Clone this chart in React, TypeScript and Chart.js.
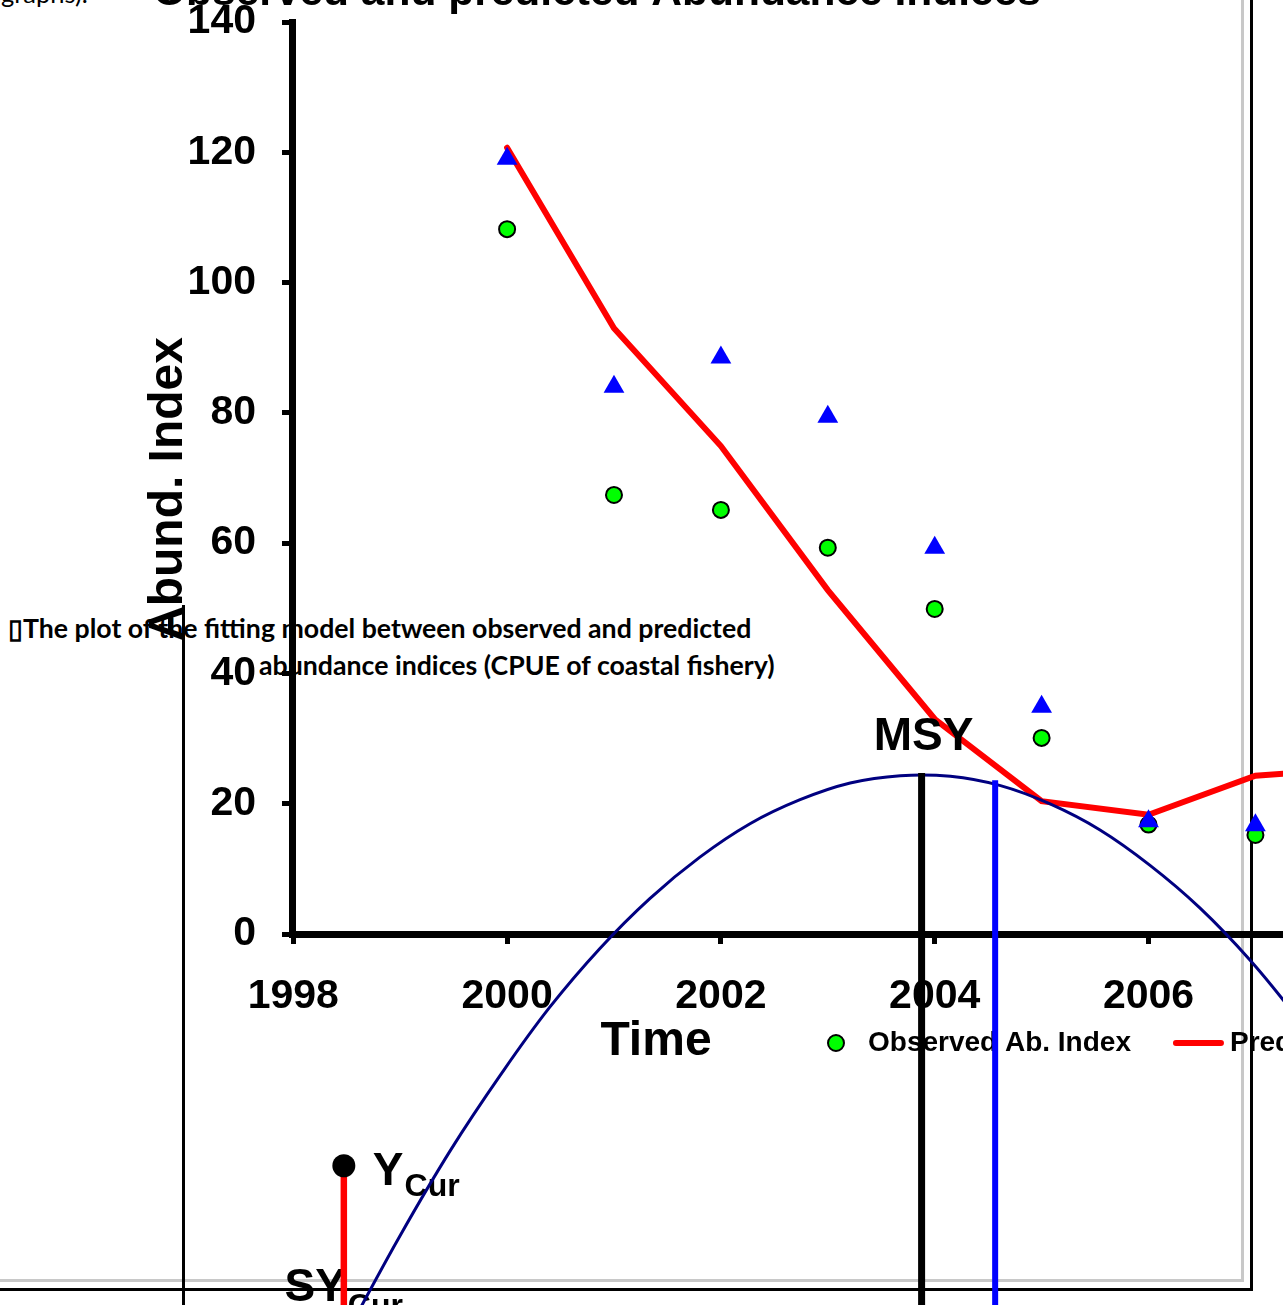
import React, { useEffect, useRef } from "react";
import { Chart, registerables } from "chart.js";

Chart.register(...registerables);

// ---------- main chart data ----------
const mainTitle = "Observed and predicted Abundance Indices";
const yTitle = "Abund. Index";
const xTitle = "Time";
const years = [2000, 2001, 2002, 2003, 2004, 2005, 2006, 2007];
const observedIndex = [108.2, 67.4, 65.1, 59.3, 49.9, 30.1, 16.8, 15.2];
const secondIndex = [119.0, 84.0, 88.5, 79.4, 59.3, 34.9, 17.3, 16.7];
const predYears = [2000, 2001, 2002, 2003, 2004, 2005, 2006, 2007, 2008];
const predictedIndex = [120.7, 93.0, 74.9, 52.8, 33.0, 20.4, 18.3, 24.3, 25.5];
const yTickValues = [0, 20, 40, 60, 80, 100, 120, 140];
const xTickValues = [1998, 2000, 2002, 2004, 2006];
const seriesLabels = ["Observed Ab. Index", "Predicted Ab. Index", "Observed Ab. Index 2"];

// ---------- overlaid yield-curve figure data ----------
const yieldCurveEffort = [1.55, 2.02, 2.49, 2.96, 3.42, 3.89, 4.36, 4.83, 5.30, 5.77, 6.24, 6.71, 7.18, 7.65, 8.11, 8.58, 9.05, 9.52, 9.99, 10.46];
const yieldCurveYield = [-0.55, 0.82, 2.09, 3.22, 4.23, 5.11, 5.86, 6.48, 6.98, 7.34, 7.59, 7.70, 7.69, 7.55, 7.28, 6.89, 6.36, 5.72, 4.94, 4.03];
const msyEffort = 6.91;
const msyYield = 7.74;
const curEffort = 7.6;
const curEffortTop = 7.63;
const yCurEffort = 1.49;
const yCurYield = 1.86;
const lineBottomYield = -0.5;

const FONT = "'Liberation Sans', Arial, sans-serif";

function MainChart() {
  const ref = useRef<HTMLCanvasElement>(null);
  useEffect(() => {
    const textPlugin = {
      id: "texts",
      afterDraw(chart: any) {
        const ctx = chart.ctx;
        const ca = chart.chartArea;
        ctx.save();
        ctx.fillStyle = "#000";
        ctx.textBaseline = "alphabetic";
        ctx.textAlign = "left";
        ctx.font = `bold 42.5px ${FONT}`;
        ctx.fillText(mainTitle, 153, 5);
        ctx.font = `bold 48px ${FONT}`;
        ctx.textAlign = "center";
        ctx.fillText(xTitle, 656, 1055);
        ctx.save();
        ctx.translate(182, (ca.top + ca.bottom) / 2 + 11);
        ctx.rotate(-Math.PI / 2);
        ctx.font = `bold 48px ${FONT}`;
        ctx.fillText(yTitle, 0, 0);
        ctx.restore();
        // legend
        ctx.font = `bold 28px ${FONT}`;
        ctx.textBaseline = "middle";
        ctx.textAlign = "left";
        let x = 811;
        const y = 1043;
        chart.data.datasets.forEach((ds: any) => {
          const cx = x + 25;
          if (ds.showLine === false) {
            ctx.beginPath();
            if (ds.pointStyle === "triangle") {
              const r = ds.pointRadius;
              ctx.moveTo(cx, y - r);
              ctx.lineTo(cx + r * 0.866, y + r / 2);
              ctx.lineTo(cx - r * 0.866, y + r / 2);
              ctx.closePath();
            } else {
              ctx.arc(cx, y, ds.pointRadius, 0, Math.PI * 2);
            }
            ctx.fillStyle = ds.pointBackgroundColor;
            ctx.fill();
            if (ds.pointBorderWidth) {
              ctx.lineWidth = ds.pointBorderWidth;
              ctx.strokeStyle = ds.pointBorderColor;
              ctx.stroke();
            }
          } else {
            ctx.beginPath();
            ctx.lineCap = "round";
            ctx.moveTo(x + 3, y);
            ctx.lineTo(x + 48, y);
            ctx.lineWidth = ds.borderWidth;
            ctx.strokeStyle = ds.borderColor;
            ctx.stroke();
          }
          ctx.fillStyle = "#000";
          ctx.fillText(ds.label, x + 57, y);
          x += 57 + ctx.measureText(ds.label).width + 42;
        });
        ctx.restore();
      },
    };

    const tickFont = { family: FONT, size: 41, weight: "bold" as const };
    const chart = new Chart(ref.current!, {
      type: "line",
      data: {
        datasets: [
          {
            label: seriesLabels[0],
            data: years.map((x, i) => ({ x, y: observedIndex[i] })),
            showLine: false,
            pointStyle: "circle",
            pointRadius: 8,
            pointBackgroundColor: "#00ff00",
            pointBorderColor: "#000000",
            pointBorderWidth: 2,
            order: 1,
          } as any,
          {
            label: seriesLabels[1],
            data: predYears.map((x, i) => ({ x, y: predictedIndex[i] })),
            borderColor: "#ff0000",
            borderWidth: 6,
            borderCapStyle: "round",
            pointRadius: 0,
            tension: 0,
            fill: false,
            order: 2,
          },
          {
            label: seriesLabels[2],
            data: years.map((x, i) => ({ x, y: secondIndex[i] })),
            showLine: false,
            pointStyle: "triangle",
            pointRadius: 12,
            pointBackgroundColor: "#0000ff",
            pointBorderColor: "#0000ff",
            pointBorderWidth: 0,
            order: 0,
          } as any,
        ],
      },
      options: {
        animation: false,
        responsive: false,
        events: [],
        layout: { autoPadding: false, padding: { top: 22, left: 0, right: 0, bottom: 271 } },
        plugins: { legend: { display: false }, tooltip: { enabled: false }, title: { display: false } },
        scales: {
          x: {
            type: "linear",
            min: 1997.988,
            max: 2007.258,
            afterBuildTicks: (s: any) => {
              s.ticks = xTickValues.map((v) => ({ value: v }));
            },
            afterFit: (s: any) => {
              s.height = 100;
              s.paddingLeft = 0;
              s.paddingRight = 0;
            },
            grid: { drawOnChartArea: false, drawTicks: true, tickLength: 10, tickWidth: 5, tickColor: "#000" },
            border: { display: true, color: "#000", width: 7 },
            ticks: {
              font: tickFont,
              color: "#000",
              padding: 28,
              maxRotation: 0,
              autoSkip: false,
              callback: (v: any) => String(v),
            },
          },
          y: {
            min: 0,
            max: 140,
            afterBuildTicks: (s: any) => {
              s.ticks = yTickValues.map((v) => ({ value: v }));
            },
            afterFit: (s: any) => {
              s.width = 292;
              s.paddingTop = 0;
              s.paddingBottom = 0;
            },
            grid: { drawOnChartArea: false, drawTicks: true, tickLength: 10, tickWidth: 5, tickColor: "#000" },
            border: { display: true, color: "#000", width: 7 },
            ticks: { font: tickFont, color: "#000", padding: 26, callback: (v: any) => String(v) },
          },
        },
      },
      plugins: [textPlugin],
    });
    return () => chart.destroy();
  }, []);
  return (
    <canvas
      ref={ref}
      width={1283}
      height={1305}
      style={{ position: "absolute", left: 0, top: 0, width: 1283, height: 1305 }}
    />
  );
}

function OverlayChart() {
  const ref = useRef<HTMLCanvasElement>(null);
  useEffect(() => {
    const labelPlugin = {
      id: "overlayLabels",
      beforeDatasetsDraw(chart: any) {
        const ctx = chart.ctx;
        const xs = chart.scales.x;
        const ys = chart.scales.y;
        ctx.save();
        ctx.fillStyle = "#000";
        ctx.textBaseline = "alphabetic";
        ctx.font = `bold 46px ${FONT}`;
        ctx.textAlign = "center";
        ctx.fillText("MSY", xs.getPixelForValue(msyEffort) + 2, ys.getPixelForValue(msyYield) - 23);
        const px = xs.getPixelForValue(yCurEffort);
        const py = ys.getPixelForValue(yCurYield);
        ctx.textAlign = "left";
        ctx.font = `bold 46px ${FONT}`;
        ctx.fillText("Y", px + 29, py + 19);
        const wY = ctx.measureText("Y").width;
        ctx.font = `bold 32px ${FONT}`;
        ctx.fillText("Cur", px + 30 + wY, py + 30);
        const by = ys.getPixelForValue(0);
        ctx.font = `bold 46px ${FONT}`;
        ctx.textAlign = "right";
        ctx.fillText("SY", px + 2, by + 11);
        ctx.textAlign = "left";
        ctx.font = `bold 32px ${FONT}`;
        ctx.fillText("Cur", px + 4, by + 26);
        ctx.restore();
      },
    };
    const chart = new Chart(ref.current!, {
      type: "scatter",
      data: {
        datasets: [
          {
            label: "Yield curve",
            data: yieldCurveEffort.map((x, i) => ({ x, y: yieldCurveYield[i] })),
            showLine: true,
            borderColor: "#000080",
            borderWidth: 3,
            pointRadius: 0,
            tension: 0.4,
            clip: false,
            order: 5,
          } as any,
          {
            label: "MSY",
            data: [
              { x: msyEffort, y: msyYield },
              { x: msyEffort, y: lineBottomYield },
            ],
            showLine: true,
            borderColor: "#000000",
            borderWidth: 7,
            pointRadius: 0,
            clip: false,
            order: 3,
          },
          {
            label: "Current effort",
            data: [
              { x: curEffort, y: curEffortTop },
              { x: curEffort, y: lineBottomYield },
            ],
            showLine: true,
            borderColor: "#0000ff",
            borderWidth: 6,
            pointRadius: 0,
            clip: false,
            order: 3,
          },
          {
            label: "Current yield line",
            data: [
              { x: yCurEffort, y: yCurYield },
              { x: yCurEffort, y: lineBottomYield },
            ],
            showLine: true,
            borderColor: "#ff0000",
            borderWidth: 6.5,
            pointRadius: 0,
            clip: false,
            order: 2,
          },
          {
            label: "Y Cur",
            data: [{ x: yCurEffort, y: yCurYield }],
            showLine: false,
            pointRadius: 11.5,
            pointBackgroundColor: "#000000",
            pointBorderColor: "#000000",
            pointBorderWidth: 0,
            clip: false,
            order: 0,
          },
        ],
      },
      options: {
        animation: false,
        responsive: false,
        events: [],
        layout: { autoPadding: false, padding: { left: 185, top: 622, right: 32, bottom: 15 } },
        plugins: { legend: { display: false }, tooltip: { enabled: false } },
        elements: { line: { capBezierPoints: false, borderCapStyle: "butt" } },
        scales: {
          x: { type: "linear", min: 0, max: 10, display: false },
          y: { type: "linear", min: 0, max: 10, display: false },
        },
      },
      plugins: [labelPlugin],
    });
    return () => chart.destroy();
  }, []);
  return (
    <canvas
      ref={ref}
      width={1283}
      height={1305}
      style={{ position: "absolute", left: 0, top: 0, width: 1283, height: 1305, pointerEvents: "none" }}
    />
  );
}

export default function App() {
  const line = (s: React.CSSProperties) => <div style={{ position: "absolute", ...s }} />;
  const captionStyle: React.CSSProperties = {
    position: "absolute",
    fontFamily: "Lato, 'Open Sans', sans-serif",
    fontWeight: 700,
    fontSize: 26.7,
    lineHeight: "32px",
    whiteSpace: "nowrap",
    color: "#000",
  };
  return (
    <div
      style={{
        position: "fixed",
        left: 0,
        top: 0,
        width: 1283,
        height: 1305,
        overflow: "hidden",
        background: "#fff",
      }}
    >
      <div style={{ ...captionStyle, fontWeight: 400, fontSize: 25.5, lineHeight: "30px", left: 1, top: -22 }}>graphs).</div>
      <div style={{ ...captionStyle, left: 8, top: 612 }}>{"\u25AF"}The plot of the fitting model between observed and predicted</div>
      <div style={{ ...captionStyle, left: 259, top: 649 }}>abundance indices (CPUE of coastal fishery)</div>
      {line({ left: 1241, top: 0, width: 3, height: 1281, background: "#c8c8c8" })}
      {line({ left: 0, top: 1279, width: 1244, height: 3, background: "#c8c8c8" })}
      {line({ left: 1250, top: 0, width: 3, height: 1291, background: "#000" })}
      {line({ left: 0, top: 1288, width: 1253, height: 3, background: "#000" })}
      {line({ left: 182, top: 605, width: 3, height: 720, background: "#000" })}
      <MainChart />
      <OverlayChart />
    </div>
  );
}
